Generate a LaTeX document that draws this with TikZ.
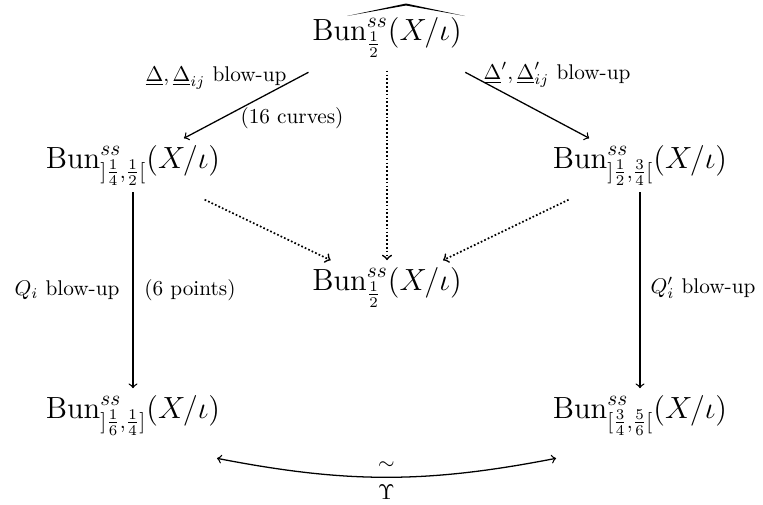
\documentclass[tikz,border=0pt]{standalone}
\usepackage{amsmath, amssymb}
\usetikzlibrary{positioning}
\newcommand{\Bun}{\mathrm{Bun}}

\begin{document}
\begin{tikzpicture}[
    x=0.47pt, y=-0.47pt,
    every node/.style={font=\normalsize},
    space/.style={font=\Large, anchor=base, inner sep=3pt},
    blowup/.style={->, semithick},
    towards/.style={->, densely dotted, thick},
  ]
    \useasboundingbox (0,0) rectangle (763,504);

    % Пространства
    \node[space, text height=17pt] (top) at (387,40) {$\Bun^{ss}_{\frac{1}{2}}(X/\iota)$};
    \fill ([shift={(-40,-24)}]top.base) -- ([shift={(19,-36.5)}]top.base)
      -- ([shift={(78,-24)}]top.base) -- ([shift={(19,-34.5)}]top.base) -- cycle;
    \node[space] (lmid) at (133,168) {$\Bun^{ss}_{]\frac{1}{4},\frac{1}{2}[}(X/\iota)$};
    \node[space] (rmid) at (640,168) {$\Bun^{ss}_{]\frac{1}{2},\frac{3}{4}[}(X/\iota)$};
    \node[space] (mid) at (387,290) {$\Bun^{ss}_{\frac{1}{2}}(X/\iota)$};
    \node[space] (lbot) at (133,418) {$\Bun^{ss}_{]\frac{1}{6},\frac{1}{4}]}(X/\iota)$};
    \node[space] (rbot) at (640,418) {$\Bun^{ss}_{[\frac{3}{4},\frac{5}{6}[}(X/\iota)$};

    % Раздутия
    \draw[blowup, shorten <=8pt] (top) -- (lmid);
    \node (dlabel) at (216,78) {$\underline{\Delta},\underline{\Delta}_{ij}$ blow-up};
    \node (curves) at (292,118) {(16 curves)};
    \draw[blowup, shorten <=8pt] (top) -- (rmid);
    \node (dplabel) at (557,75) {$\underline{\Delta}',\underline{\Delta}'_{ij}$ blow-up};
    \draw[blowup] (lmid) -- (lbot);
    \node (qlabel) at (67,290) {$Q_i$ blow-up};
    \node (points) at (190,290) {(6 points)};
    \draw[blowup] (rmid) -- (rbot);
    \node (qplabel) at (703,288) {$Q'_i$ blow-up};

    % Стягивания
    \draw[towards, shorten <=3pt] (top) -- (mid);
    \draw[towards, shorten <=8pt] (lmid) -- (mid);
    \draw[towards, shorten <=8pt] (rmid) -- (mid);

    % Изоморфизм
    \draw[<->, semithick] ([shift={(-10,16)}]lbot.south east) to[bend right=11]
      node[above] {$\sim$} node[below] {$\Upsilon$}
      ([shift={(10,16)}]rbot.south west);
\end{tikzpicture}
\end{document}
